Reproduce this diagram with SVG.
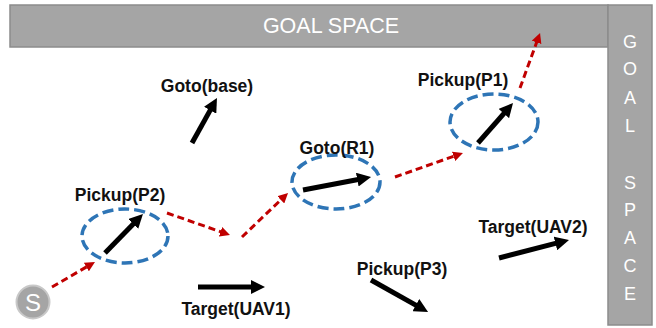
<svg xmlns="http://www.w3.org/2000/svg" width="656" height="328" viewBox="0 0 656 328">
<style>
.bar{fill:#a5a5a5;stroke:#8c8c8c;stroke-width:1.5}
.bartxt{font-family:"Liberation Sans",Arial,sans-serif;fill:#fff;text-anchor:middle}
.lbl{font-family:"Liberation Sans",Arial,sans-serif;font-weight:bold;font-size:17.5px;fill:#111;text-anchor:middle}
.ell{fill:none;stroke:#2e75b6;stroke-width:3.5;stroke-dasharray:11,5}
.blk{stroke:#000;stroke-width:5;fill:none;marker-end:url(#hb)}
.red{stroke:#c00000;stroke-width:3;fill:none;stroke-dasharray:7,4;marker-end:url(#hr)}
</style>
<defs>
<marker id="hb" markerUnits="userSpaceOnUse" markerWidth="14" markerHeight="14" viewBox="0 0 14 14" refX="5" refY="7" orient="auto"><path d="M0,0 L14,7 L0,14 z" fill="#000"/></marker>
<marker id="hr" markerUnits="userSpaceOnUse" markerWidth="10" markerHeight="10" viewBox="0 0 10 10" refX="4" refY="5" orient="auto"><path d="M0,0 L10,5 L0,10 z" fill="#c00000"/></marker>
</defs>
<rect width="656" height="328" fill="#fff"/>
<g id="goal-top">
<rect class="bar" x="10" y="5" width="598" height="42"/>
<text class="bartxt" x="331" y="33" font-size="21.5">GOAL SPACE</text>
</g>
<g id="goal-right">
<rect class="bar" x="608" y="5" width="44" height="320"/>
<g class="bartxt" font-size="18">
<text x="630" y="47.5">G</text>
<text x="630" y="75">O</text>
<text x="630" y="103.5">A</text>
<text x="630" y="131.5">L</text>
<text x="630" y="188.5">S</text>
<text x="630" y="215.5">P</text>
<text x="630" y="243.5">A</text>
<text x="630" y="271.5">C</text>
<text x="630" y="299.5">E</text>
</g>
</g>
<g id="start">
<circle cx="33" cy="302" r="16.5" fill="#a5a5a5" stroke="#c8c8c8" stroke-width="2"/>
<text class="bartxt" x="33" y="310.5" font-size="24">S</text>
</g>
<g id="connectors">
<line class="red" x1="52" y1="287" x2="89.8" y2="265"/>
<line class="red" x1="167" y1="213" x2="224.3" y2="233"/>
<line class="red" x1="242" y1="237" x2="283.7" y2="197.1"/>
<line class="red" x1="395" y1="177" x2="457.3" y2="155"/>
<line class="red" x1="520" y1="88" x2="538" y2="38.6"/>
</g>
<g id="pickup-p2">
<ellipse class="ell" cx="125" cy="236" rx="43" ry="27"/>
<line class="blk" x1="105" y1="253" x2="136.7" y2="220.4"/>
<text class="lbl" x="120" y="201">Pickup(P2)</text>
</g>
<g id="goto-base">
<line class="blk" x1="192" y1="143" x2="212.6" y2="105.9"/>
<text class="lbl" x="207" y="92">Goto(base)</text>
</g>
<g id="goto-r1">
<ellipse class="ell" cx="336" cy="182" rx="44" ry="27"/>
<line class="blk" x1="303" y1="190" x2="362.2" y2="178.7"/>
<text class="lbl" x="337" y="154">Goto(R1)</text>
</g>
<g id="pickup-p1">
<ellipse class="ell" cx="494" cy="122" rx="44" ry="28"/>
<line class="blk" x1="478" y1="143" x2="507.1" y2="109.8"/>
<text class="lbl" x="463" y="86">Pickup(P1)</text>
</g>
<g id="target-uav1">
<line class="blk" x1="198" y1="287" x2="256" y2="287"/>
<text class="lbl" x="236" y="315">Target(UAV1)</text>
</g>
<g id="pickup-p3">
<line class="blk" x1="371" y1="280" x2="420.2" y2="307.6"/>
<text class="lbl" x="402" y="275">Pickup(P3)</text>
</g>
<g id="target-uav2">
<line class="blk" x1="499" y1="258" x2="560.3" y2="242.2"/>
<text class="lbl" x="533" y="233">Target(UAV2)</text>
</g>
</svg>
